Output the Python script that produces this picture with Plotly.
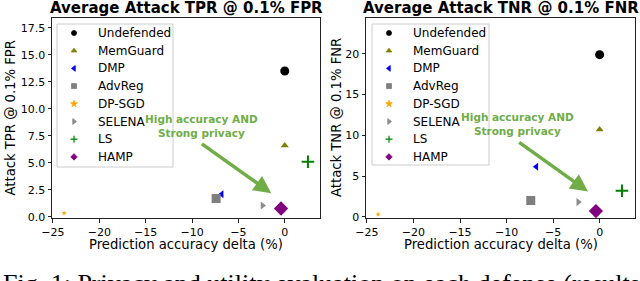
import plotly.graph_objects as go

W, H = 640, 281

methods = ["Undefended", "MemGuard", "DMP", "AdvReg", "DP-SGD", "SELENA", "LS", "HAMP"]
acc_delta_tpr = [0.0, 0.0, -6.8, -7.4, -23.8, -2.4, 2.5, -0.4]
tpr_values = [13.5, 6.6, 2.1, 1.7, 0.35, 1.05, 5.1, 0.78]
acc_delta_tnr = [0.0, 0.0, -6.8, -7.4, -23.8, -2.3, 2.4, -0.4]
tnr_values = [19.9, 10.7, 6.15, 2.0, 0.3, 1.8, 3.2, 0.7]

colors = ["#000000", "#808000", "#0000ff", "#7f7f7f", "#ffa500", "#8c8c8c", "#008000", "#800080"]
symbols = ["circle", "triangle-up", "triangle-left", "square", "star", "triangle-right", "cross-thin", "diamond"]
sizes = [9, 7, 7, 9, 4, 7, 9, 11]

x_ticks = [-25, -20, -15, -10, -5, 0]
x_ticktext = ["\u221225", "\u221220", "\u221215", "\u221210", "\u22125", "0"]
y1_ticks = [0.0, 2.5, 5.0, 7.5, 10.0, 12.5, 15.0, 17.5]
y2_ticks = [0, 5, 10, 15, 20]

titles = ["Average Attack TPR @ 0.1% FPR", "Average Attack TNR @ 0.1% FNR"]
ytitles = ["Attack TPR @ 0.1% FPR", "Attack TNR @ 0.1% FNR"]
xtitle = "Prediction accuracy delta (%)"
note = "High accuracy AND<br>Strong privacy"
caption = "Fig. 1: Privacy and utility evaluation on each defense (results"


def px_x(p):
    return p / W


def px_y(p):
    return 1 - p / H


fig = go.Figure()

panels = [
    (acc_delta_tpr, tpr_values, "x", "y"),
    (acc_delta_tnr, tnr_values, "x2", "y2"),
]
for xs, ys, xa, ya in panels:
    for i, m in enumerate(methods):
        sym = symbols[i]
        line = dict(width=2, color=colors[i]) if sym == "cross-thin" else dict(width=0)
        fig.add_trace(go.Scatter(
            x=[xs[i]], y=[ys[i]], mode="markers", name=m, xaxis=xa, yaxis=ya,
            showlegend=False,
            marker=dict(symbol=sym, size=sizes[i], color=colors[i], line=line),
        ))

# hand-built legends (pixel overlay axis)
leg_left = [57, 372]
leg_right = [173, 489]
leg_top = 24
leg_bottom = [167, 165]
row0, row_step = 33, 17.7
shapes = []
ann = []
for k in range(2):
    shapes.append(dict(type="rect", xref="x3", yref="y3",
                       x0=leg_left[k], x1=leg_right[k], y0=leg_top, y1=leg_bottom[k],
                       line=dict(color="#cccccc", width=1), fillcolor="rgba(255,255,255,0.85)",
                       layer="below"))
    mx = leg_left[k] + 17
    tx = leg_left[k] + 39
    for i, m in enumerate(methods):
        yy = row0 + row_step * i
        sym = symbols[i]
        lw = 1.2 if sym == "cross-thin" else 0.8
        fig.add_trace(go.Scatter(
            x=[mx], y=[yy], mode="markers", xaxis="x3", yaxis="y3", showlegend=False,
            hoverinfo="skip",
            marker=dict(symbol=sym, size=5, color=colors[i],
                        line=dict(width=lw, color=colors[i])),
        ))
        ann.append(dict(text=m, xref="x3", yref="y3", x=tx, y=yy, xanchor="left", yanchor="middle",
                        showarrow=False, font=dict(family="DejaVu Sans", size=12, color="#000000")))

axis_common = dict(
    showline=True, linecolor="#222222", linewidth=1, mirror=True,
    ticks="outside", ticklen=3.5, tickcolor="#222222", tickwidth=1,
    showgrid=False, zeroline=False, automargin=False,
    tickfont=dict(family="DejaVu Sans", size=11, color="#000000"),
)

fig.update_layout(
    width=W, height=H,
    margin=dict(l=0, r=0, t=0, b=0),
    paper_bgcolor="white", plot_bgcolor="rgba(0,0,0,0)",
    template="none",
    showlegend=False,
    xaxis=dict(domain=[px_x(52), px_x(320)], range=[-25.1, 3.8], tickvals=x_ticks,
               ticktext=x_ticktext, anchor="y", **axis_common),
    yaxis=dict(domain=[px_y(218), px_y(18)], range=[-0.1, 18.4], tickvals=y1_ticks,
               ticktext=[f"{v:.1f}" for v in y1_ticks], anchor="x", **axis_common),
    xaxis2=dict(domain=[px_x(366), px_x(635)], range=[-25.1, 3.8], tickvals=x_ticks,
                ticktext=x_ticktext, anchor="y2", **axis_common),
    yaxis2=dict(domain=[px_y(218), px_y(18)], range=[-0.15, 24.4], tickvals=y2_ticks,
                ticktext=[str(v) for v in y2_ticks], anchor="x2", **axis_common),
    xaxis3=dict(domain=[0, 1], range=[0, W], visible=False, anchor="y3", fixedrange=True),
    yaxis3=dict(domain=[0, 1], range=[H, 0], visible=False, anchor="x3", fixedrange=True),
)

centers = [(52 + 320) / 2, (366 + 635) / 2]
ytitle_x = [9.5, 336]
for k in range(2):
    ann.append(dict(text=f"<b>{titles[k]}</b>", xref="paper", yref="paper",
                    x=px_x(centers[k]), y=px_y(8.5), xanchor="center", yanchor="middle",
                    showarrow=False, font=dict(family="DejaVu Sans", size=15, color="#000000")))
    ann.append(dict(text=xtitle, xref="paper", yref="paper",
                    x=px_x(centers[k]), y=px_y(244.5), xanchor="center", yanchor="middle",
                    showarrow=False, font=dict(family="DejaVu Sans", size=13.2, color="#000000")))
    ann.append(dict(text=ytitles[k], xref="paper", yref="paper", textangle=-90,
                    x=px_x(ytitle_x[k]), y=px_y(118), xanchor="center", yanchor="middle",
                    showarrow=False, font=dict(family="DejaVu Sans", size=13.2, color="#000000")))

green = "#70ad47"
ann.append(dict(text="", x=-1.45, y=2.2, ax=-9.1, ay=6.85, xref="x", yref="y", axref="x", ayref="y",
                showarrow=True, arrowhead=2, arrowsize=1, arrowwidth=3.5, arrowcolor=green, standoff=0))
ann.append(dict(text=f"<b>{note}</b>", x=-9.0, y=8.4, xref="x", yref="y", showarrow=False,
                xanchor="center", yanchor="middle",
                font=dict(family="DejaVu Sans", size=10.5, color=green)))
ann.append(dict(text="", x=-1.25, y=3.1, ax=-8.8, ay=9.26, xref="x2", yref="y2", axref="x2", ayref="y2",
                showarrow=True, arrowhead=2, arrowsize=1, arrowwidth=3.5, arrowcolor=green, standoff=0))
ann.append(dict(text=f"<b>{note}</b>", x=-8.8, y=11.4, xref="x2", yref="y2", showarrow=False,
                xanchor="center", yanchor="middle",
                font=dict(family="DejaVu Sans", size=10.5, color=green)))

ann.append(dict(text=caption, xref="paper", yref="paper", x=px_x(1), y=px_y(267),
                xanchor="left", yanchor="top", showarrow=False,
                font=dict(family="Liberation Serif", size=26, color="#000000")))

fig.update_layout(annotations=ann, shapes=shapes)

fig.write_html("out.html", config={"displayModeBar": False},
               post_script="document.body.style.margin='0px';document.body.style.overflow='hidden';")
